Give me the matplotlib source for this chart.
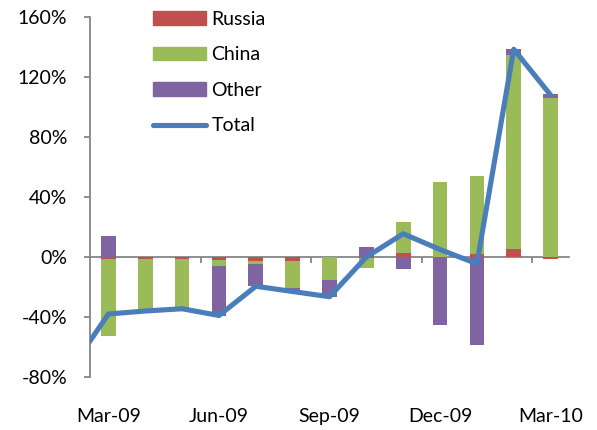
import matplotlib
matplotlib.use("Agg")
import matplotlib.pyplot as plt
import numpy as np
from matplotlib.patches import Patch
from matplotlib.lines import Line2D
from matplotlib.transforms import blended_transform_factory

plt.rcParams['font.family'] = ['Lato', 'DejaVu Sans']

months = ['Mar-09', 'Apr-09', 'May-09', 'Jun-09', 'Jul-09', 'Aug-09', 'Sep-09',
          'Oct-09', 'Nov-09', 'Dec-09', 'Jan-10', 'Feb-10', 'Mar-10']
russia = [-1.5, -1, -1, -2, -2.5, -2.5, 0, -0.5, 3, 0, 2, 5.5, -1]
china = [-51, -34, -32.5, -4, -2, -18, -15, -6.5, 20.5, 50, 52, 129.5, 106]
other = [14, -1, -1, -33, -14.5, -2, -11.5, 7, -8, -45, -58.5, 3.5, 3]
total = [-38, -36, -34.5, -39, -19.5, -23, -26.5, 0, 15.5, 5, -4.5, 138.5, 108]
total_prev = -74  # Feb-09 value (clipped at the left edge)
yticks = [-80, -40, 0, 40, 80, 120, 160]

colors = {'Russia': '#C0504D', 'China': '#9BBB59', 'Other': '#8064A2'}
line_color = '#4A7EBB'
axis_color = '#868686'
FS = 14

W, H = 597, 430
fig = plt.figure(figsize=(W / 100, H / 100), dpi=100)
ax = fig.add_axes([90 / W, 53 / H, 479 / W, 360 / H])

x = np.arange(len(months))
pos_b = np.zeros(len(months))
neg_b = np.zeros(len(months))
for name, vals in [('Russia', russia), ('China', china), ('Other', other)]:
    v = np.array(vals, dtype=float)
    bottom = np.where(v >= 0, pos_b, neg_b)
    ax.bar(x, v, bottom=bottom, width=0.4, color=colors[name], zorder=2, linewidth=0)
    pos_b = np.where(v >= 0, pos_b + v, pos_b)
    neg_b = np.where(v < 0, neg_b + v, neg_b)

lx = np.concatenate([[-1], x])
ly = np.concatenate([[total_prev], total])
ax.plot(lx, ly, color=line_color, lw=3.7, solid_joinstyle='round',
        solid_capstyle='round', zorder=3)

ax.set_xlim(-0.5, len(months) - 0.5)
ax.set_ylim(-80, 160)
ax.set_yticks(yticks)
ax.set_yticklabels([f'{t}%' for t in yticks])

for s in ['top', 'right']:
    ax.spines[s].set_visible(False)
ax.spines['left'].set_color(axis_color)
ax.spines['left'].set_linewidth(1.3)
ax.spines['bottom'].set_position(('data', 0))
ax.spines['bottom'].set_color(axis_color)
ax.spines['bottom'].set_linewidth(1.3)
ax.spines['bottom'].set_zorder(1)

ax.tick_params(axis='y', direction='out', length=4.5, width=1.3, color=axis_color,
               pad=12, labelsize=FS, labelcolor='black')
ax.set_xticks([2.5, 5.5, 8.5, 11.5])
ax.set_xticklabels([])
ax.tick_params(axis='x', direction='out', length=4, width=1.3, color=axis_color)

tr = blended_transform_factory(ax.transData, ax.transAxes)
for i in range(0, len(months), 3):
    ax.text(i, -0.111, months[i], transform=tr, ha='center', va='center',
            fontsize=FS, color='black')

handles = [Patch(color=colors['Russia']), Patch(color=colors['China']),
           Patch(color=colors['Other']),
           Line2D([], [], color=line_color, lw=3.7, solid_capstyle='round')]
fig.legend(handles, ['Russia', 'China', 'Other', 'Total'], loc='upper left',
           bbox_to_anchor=(153 / W, 1 - 11 / H), frameon=False, fontsize=FS,
           borderpad=0, borderaxespad=0, handlelength=2.7, handleheight=0.7,
           handletextpad=0.3, labelspacing=0.95)

fig.savefig('out.png', dpi=100)
